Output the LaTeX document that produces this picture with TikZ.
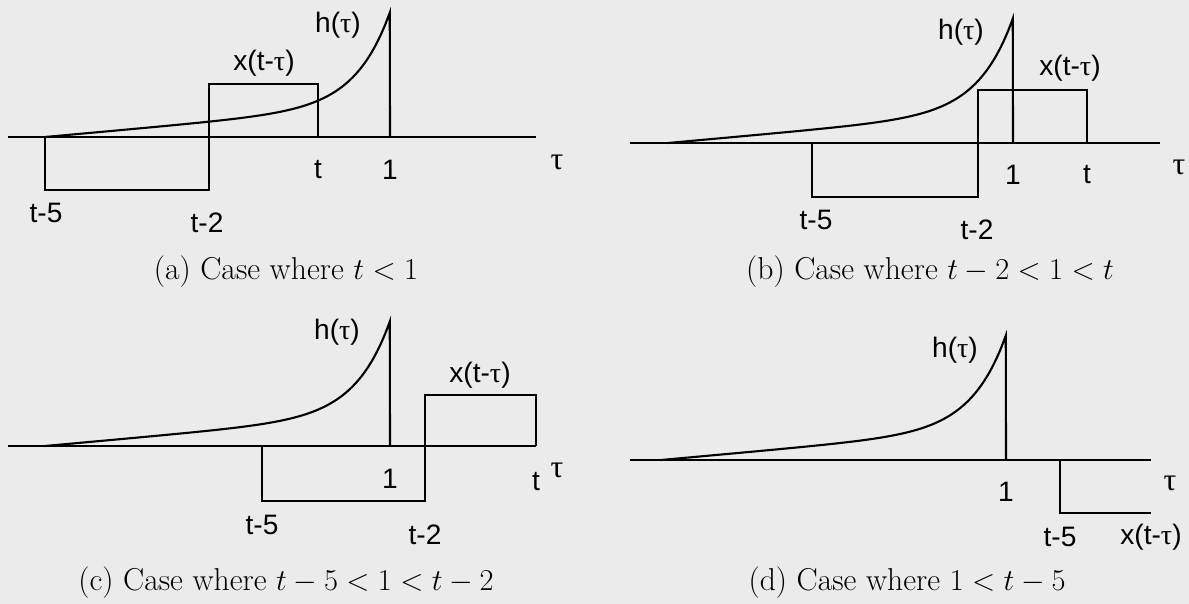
\documentclass[tikz,border=0pt]{standalone}
\usepackage{amsmath}
\usepackage{fontspec}
\newfontfamily\labelfont{Liberation Sans}
\newfontfamily\greekfont{Liberation Serif}
\newcommand{\tu}{{\greekfont τ}}
% h(tau): peak at x=#1, axis at y=#2
\newcommand{\hcurve}[2]{%
  \draw plot[domain=0:1, samples=80, smooth]
    ({#1-345+345*\x}, {#2-125*(0.25*\x+0.75*exp(10*(\x-1)))}) -- (#1,#2);
}

\begin{document}
\begin{tikzpicture}[
    x=0.02cm, y=-0.02cm,
    line width=1.2pt,
    lbl/.style={font=\labelfont\fontsize{16}{19}\selectfont, inner sep=0pt},
    var/.style={font=\greekfont\fontsize{18}{20}\selectfont, inner sep=0pt},
    caption/.style={font=\fontsize{18}{21}\selectfont, inner sep=0pt}
]

\fill[black!8] (0,0) rectangle (1189,604);
\useasboundingbox (0,0) rectangle (1189,604);

% (a) t < 1
\draw (8,137) -- (536,137);
\hcurve{390}{137}
\draw (45,137) -- (45,190) -- (209,190) -- (209,84) -- (318,84) -- (318,137);
\node[lbl] (ha) at (338,25) {h(\tu)};
\node[lbl] (xa) at (264,63) {x(t-\tu)};
\node[lbl] (ta) at (318,170) {t};
\node[lbl] (oa) at (390,170) {1};
\node[var] (taua) at (557,162) {τ};
\node[lbl] (t5a) at (46,213) {t-5};
\node[lbl] (t2a) at (207,223) {t-2};
\node[caption] (capa) at (286,272) {(a) Case where $t<1$};

% (b) t-2 < 1 < t
\draw (630,143) -- (1160,143);
\hcurve{1013}{143}
\draw (812,143) -- (812,197) -- (978,197) -- (978,90) -- (1087,90) -- (1087,143);
\node[lbl] (hb) at (961,32) {h(\tu)};
\node[lbl] (xb) at (1070,68) {x(t-\tu)};
\node[lbl] (ob) at (1013,175) {1};
\node[lbl] (tb) at (1087,175) {t};
\node[var] (taub) at (1179,167) {τ};
\node[lbl] (t5b) at (816,220) {t-5};
\node[lbl] (t2b) at (977,230) {t-2};
\node[caption] (capb) at (930,272) {(b) Case where $t-2<1<t$};

% (c) t-5 < 1 < t-2
\draw (8,446) -- (536,446);
\hcurve{390}{446}
\draw (262,446) -- (262,501) -- (425,501) -- (425,395) -- (536,395) -- (536,446);
\node[lbl] (hc) at (337,332) {h(\tu)};
\node[lbl] (xc) at (480,375) {x(t-\tu)};
\node[lbl] (oc) at (390,479) {1};
\node[lbl] (tc) at (536,482) {t};
\node[var] (tauc) at (557,470) {τ};
\node[lbl] (t5c) at (262,525) {t-5};
\node[lbl] (t2c) at (425,535) {t-2};
\node[caption] (capc) at (286,583) {(c) Case where $t-5<1<t-2$};

% (d) 1 < t-5
\draw (630,460) -- (1151,460);
\hcurve{1006}{460}
\draw (1060,460) -- (1060,513) -- (1151,513);
\node[lbl] (hd) at (955,350) {h(\tu)};
\node[lbl] (od) at (1006,492) {1};
\node[var] (taud) at (1170,483) {τ};
\node[lbl] (t5d) at (1060,537) {t-5};
\node[lbl] (xd) at (1151,537) {x(t-\tu)};
\node[caption] (capd) at (907,583) {(d) Case where $1<t-5$};

\end{tikzpicture}
\end{document}
